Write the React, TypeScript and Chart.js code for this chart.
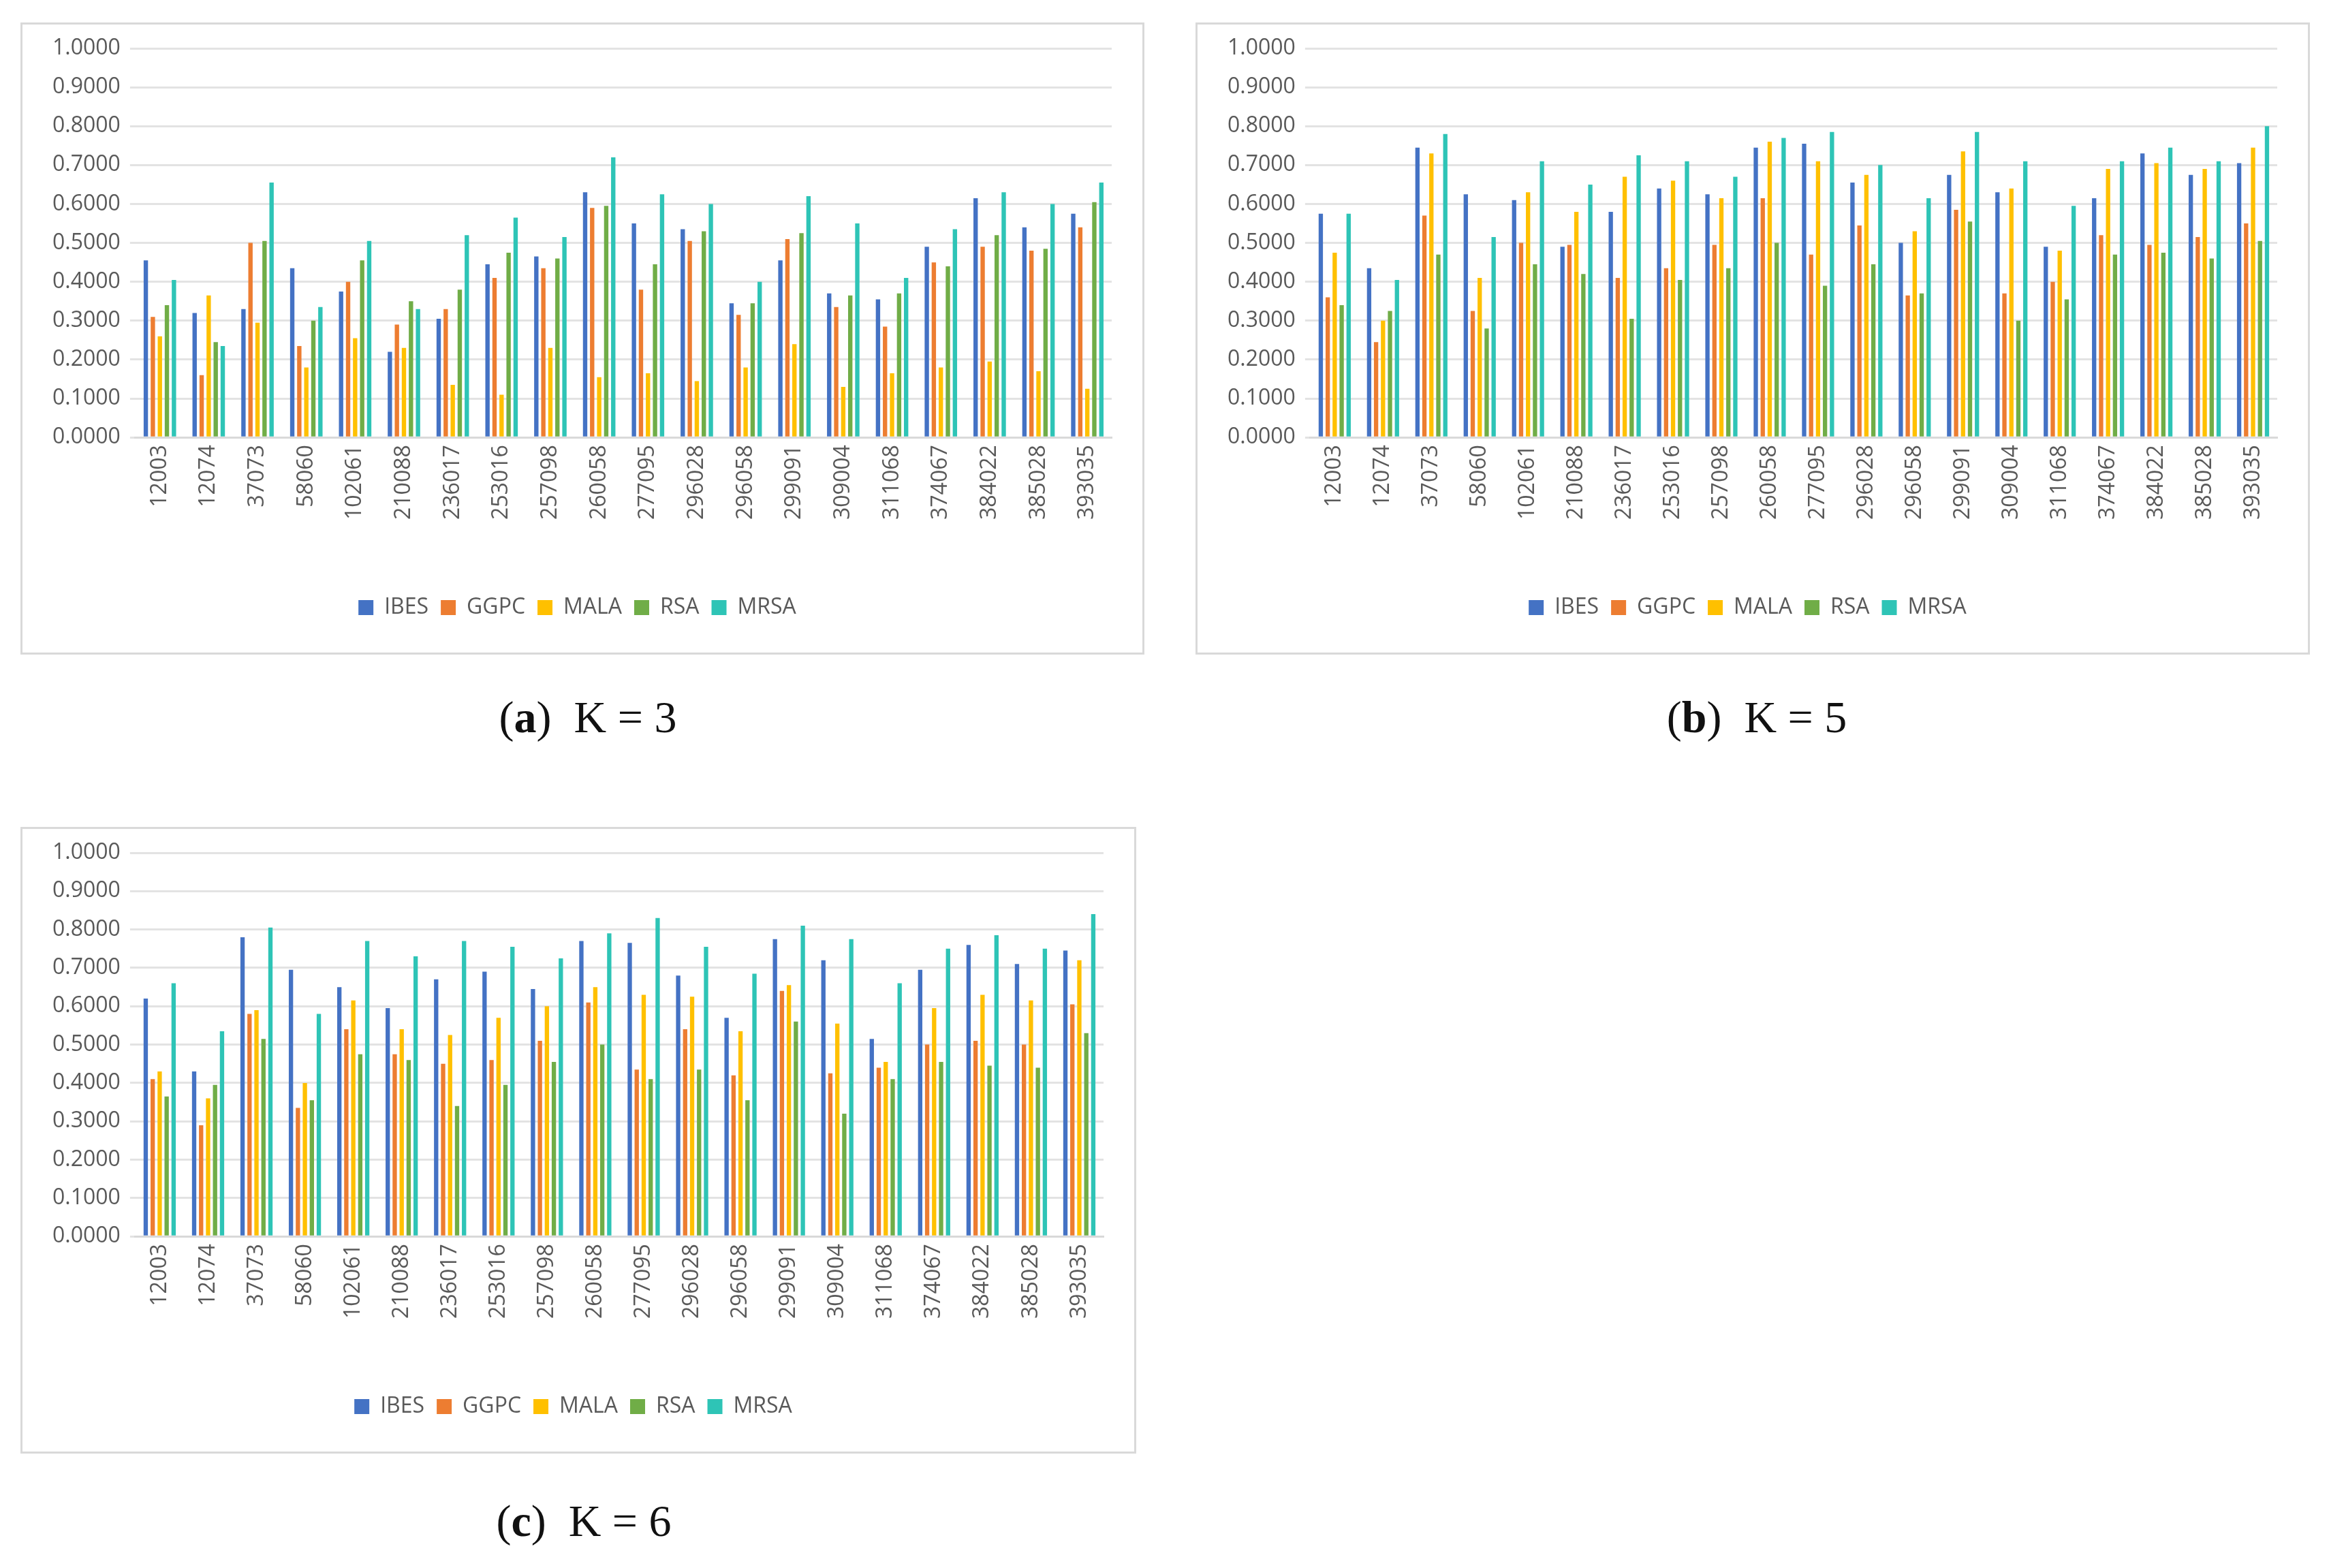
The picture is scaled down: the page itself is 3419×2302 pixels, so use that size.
import React, { useEffect, useRef } from "react";
import { Chart, registerables } from "chart.js";
Chart.register(...registerables);

const categories = ["12003","12074","37073","58060","102061","210088","236017","253016","257098","260058","277095","296028","296058","299091","309004","311068","374067","384022","385028","393035"];
const seriesNames = ["IBES","GGPC","MALA","RSA","MRSA"];
const seriesColors = ["#4472C4","#ED7D31","#FFC000","#70AD47","#2EC4B6"];
const yTicks = [0,0.1,0.2,0.3,0.4,0.5,0.6,0.7,0.8,0.9,1.0];

const k3IBES = [.455,.32,.33,.435,.375,.22,.305,.445,.465,.63,.55,.535,.345,.455,.37,.355,.49,.615,.54,.575];
const k3GGPC = [.31,.16,.50,.235,.40,.29,.33,.41,.435,.59,.38,.505,.315,.51,.335,.285,.45,.49,.48,.54];
const k3MALA = [.26,.365,.295,.18,.255,.23,.135,.11,.23,.155,.165,.145,.18,.24,.13,.165,.18,.195,.17,.125];
const k3RSA = [.34,.245,.505,.30,.455,.35,.38,.475,.46,.595,.445,.53,.345,.525,.365,.37,.44,.52,.485,.605];
const k3MRSA = [.405,.235,.655,.335,.505,.33,.52,.565,.515,.72,.625,.60,.40,.62,.55,.41,.535,.63,.60,.655];

const k5IBES = [.575,.435,.745,.625,.61,.49,.58,.64,.625,.745,.755,.655,.50,.675,.63,.49,.615,.73,.675,.705];
const k5GGPC = [.36,.245,.57,.325,.50,.495,.41,.435,.495,.615,.47,.545,.365,.585,.37,.40,.52,.495,.515,.55];
const k5MALA = [.475,.30,.73,.41,.63,.58,.67,.66,.615,.76,.71,.675,.53,.735,.64,.48,.69,.705,.69,.745];
const k5RSA = [.34,.325,.47,.28,.445,.42,.305,.405,.435,.50,.39,.445,.37,.555,.30,.355,.47,.475,.46,.505];
const k5MRSA = [.575,.405,.78,.515,.71,.65,.725,.71,.67,.77,.785,.70,.615,.785,.71,.595,.71,.745,.71,.80];

const k6IBES = [.62,.43,.78,.695,.65,.595,.67,.69,.645,.77,.765,.68,.57,.775,.72,.515,.695,.76,.71,.745];
const k6GGPC = [.41,.29,.58,.335,.54,.475,.45,.46,.51,.61,.435,.54,.42,.64,.425,.44,.50,.51,.50,.605];
const k6MALA = [.43,.36,.59,.40,.615,.54,.525,.57,.60,.65,.63,.625,.535,.655,.555,.455,.595,.63,.615,.72];
const k6RSA = [.365,.395,.515,.355,.475,.46,.34,.395,.455,.50,.41,.435,.355,.56,.32,.41,.455,.445,.44,.53];
const k6MRSA = [.66,.535,.805,.58,.77,.73,.77,.755,.725,.79,.83,.755,.685,.81,.775,.66,.75,.785,.75,.84];

const FONT = "'Open Sans', 'Liberation Sans', sans-serif";

function Panel({ data, left, top, width, height }: { data: number[][]; left: number; top: number; width: number; height: number }) {
  const ref = useRef<HTMLCanvasElement>(null);
  useEffect(() => {
    if (!ref.current) return;
    const chart = new Chart(ref.current, {
      type: "bar",
      data: {
        labels: categories,
        datasets: seriesNames.map((n, i) => ({
          label: n,
          data: data[i],
          backgroundColor: seriesColors[i],
          categoryPercentage: 0.72,
          barPercentage: 0.62,
        })),
      },
      options: {
        animation: false,
        responsive: false,
        maintainAspectRatio: false,
        layout: { padding: { left: 30, right: 45, top: 35, bottom: 40 } },
        plugins: {
          legend: {
            position: "bottom",
            title: { display: true, text: " ", padding: 40, font: { size: 10 } },
            labels: { font: { family: FONT, size: 32 }, color: "#595959", boxWidth: 22, boxHeight: 22, padding: 18 },
          },
          tooltip: { enabled: false },
        },
        scales: {
          x: {
            grid: { display: false },
            border: { color: "#d9d9d9", width: 3 },
            ticks: { font: { family: FONT, size: 32 }, color: "#595959", maxRotation: 90, minRotation: 90, autoSkip: false },
          },
          y: {
            min: 0,
            max: 1,
            afterBuildTicks: (ax: any) => { ax.ticks = yTicks.map((v) => ({ value: v })); },
            grid: { color: "#e3e3e3", lineWidth: 3 },
            border: { display: false },
            ticks: { font: { family: FONT, size: 32 }, color: "#595959", callback: (v: any) => Number(v).toFixed(4), padding: 14 },
          },
        },
      },
    });
    return () => chart.destroy();
  }, []);
  return (
    <div style={{ position: "absolute", left, top, width, height, border: "3px solid #d9d9d9", boxSizing: "border-box", background: "#fff" }}>
      <canvas ref={ref} width={width - 6} height={height - 6} style={{ width: width - 6, height: height - 6 }} />
    </div>
  );
}

function Caption({ letter, k, cx, top }: { letter: string; k: number; cx: number; top: number }) {
  return (
    <div style={{ position: "absolute", left: cx - 300, width: 600, top, textAlign: "center", fontFamily: "'Liberation Serif', serif", fontSize: 66, color: "#111" }}>
      (<b>{letter}</b>)&nbsp; K = {k}
    </div>
  );
}

export default function App() {
  useEffect(() => { document.body.style.margin = "0"; }, []);
  return (
    <div style={{ position: "relative", width: 3419, height: 2302, background: "#fff", overflow: "hidden" }}>
      <Panel data={[k3IBES, k3GGPC, k3MALA, k3RSA, k3MRSA]} left={30} top={33} width={1650} height={928} />
      <Panel data={[k5IBES, k5GGPC, k5MALA, k5RSA, k5MRSA]} left={1755} top={33} width={1636} height={928} />
      <Panel data={[k6IBES, k6GGPC, k6MALA, k6RSA, k6MRSA]} left={30} top={1214} width={1638} height={920} />
      <Caption letter="a" k={3} cx={863} top={1015} />
      <Caption letter="b" k={5} cx={2579} top={1015} />
      <Caption letter="c" k={6} cx={857} top={2195} />
    </div>
  );
}
